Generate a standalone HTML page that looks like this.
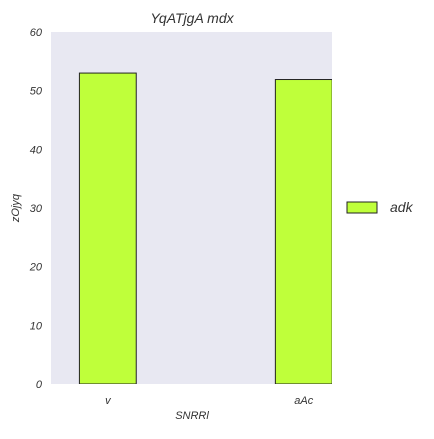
<!DOCTYPE html>
<html><head><meta charset="utf-8"><style>
body{margin:0;background:#fff;width:434px;height:434px;overflow:hidden;font-family:"Liberation Sans",sans-serif;}
text{font-family:"Liberation Sans",sans-serif;font-style:italic;fill:#333;}
</style></head><body>
<svg width="434" height="434">
<g id="g"></g>
</svg>
<script>
const categories=["v","aAc"];
const values=[53.0,51.9];
const yTicks=[0,10,20,30,40,50,60];
const seriesName="adk";
const L=51,R=332,T=32,B=384;
const xMin=-0.29,xMax=1.144;
const x=v=>L+(v-xMin)/(xMax-xMin)*(R-L);
const y=v=>B-v/60*(B-T);
const ns="http://www.w3.org/2000/svg";
const g=document.getElementById('g');
function mk(t,a,txt){const e=document.createElementNS(ns,t);for(const k in a)e.setAttribute(k,a[k]);if(txt!==undefined)e.textContent=txt;g.appendChild(e);return e;}
let e=mk('rect',{x:L,y:T,width:R-L,height:B-T,fill:'#e8e8f2'});


const cp=mk('clipPath',{id:'cp'});
const cr=document.createElementNS(ns,'rect');cr.setAttribute('x',L);cr.setAttribute('y',T);cr.setAttribute('width',R-L);cr.setAttribute('height',B-T);cp.appendChild(cr);
const bw=x(0.29)-x(0);
categories.forEach((c,i)=>{
 e=mk('rect',{x:x(i)-bw/2,y:y(values[i]),width:bw,height:y(0)-y(values[i]),fill:'#bfff3a',stroke:'#222','stroke-width':1,'clip-path':'url(#cp)'});
 
 
 e=mk('text',{x:x(i),y:404,'font-size':11,'text-anchor':'middle'},c);
 
 
});
yTicks.forEach(t=>{
 e=mk('text',{x:42,y:y(t)+4,'font-size':11,'text-anchor':'end'},t);
 
 
});
e=mk('text',{x:192,y:23,'font-size':14,'text-anchor':'middle'},'YqATjgA mdx');


e=mk('text',{x:192,y:419,'font-size':11,'text-anchor':'middle'},'SNRRl');


e=mk('text',{x:0,y:0,'font-size':11,'text-anchor':'middle',transform:'translate(19,208) rotate(-90)'},'zOjyq');


e=mk('rect',{x:347,y:202,width:30,height:11,fill:'#bfff3a',stroke:'#222','stroke-width':1});


e=mk('text',{x:390,y:212,'font-size':14},seriesName);


</script>
</body></html>
